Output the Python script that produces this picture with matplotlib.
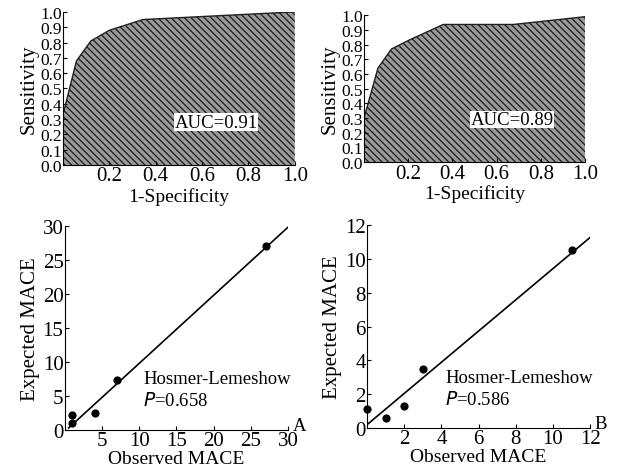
import matplotlib
matplotlib.use("Agg")
import matplotlib.pyplot as plt

plt.rcParams['font.family'] = ['Liberation Serif', 'DejaVu Serif']
plt.rcParams['hatch.linewidth'] = 0.9

# ROC curves (1-specificity, sensitivity)
roc_a_x = [0.0, 0.0, 0.058, 0.12, 0.2, 0.345, 1.0]
roc_a_y = [0.0, 0.33, 0.68, 0.81, 0.88, 0.95, 1.0]
roc_b_x = [0.0, 0.0, 0.063, 0.124, 0.21, 0.358, 0.675, 1.0]
roc_b_y = [0.0, 0.30, 0.64, 0.77, 0.835, 0.937, 0.937, 0.99]
auc_a = "AUC=0.91"
auc_b = "AUC=0.89"

# calibration (observed, expected)
obs_a = [1, 1, 4, 7, 27]
exp_a = [1.0, 2.2, 2.5, 7.4, 27.1]
fit_a_x = [0.5, 30]
fit_a_y = [0.3, 29.8]
obs_b = [0, 1, 2, 3, 11]
exp_b = [1.1, 0.6, 1.3, 3.5, 10.5]
fit_b_x = [0, 12]
fit_b_y = [0.2, 11.27]
p_a = "0.658"
p_b = "0.586"

fig = plt.figure(figsize=(6.18, 4.77), dpi=100)
TFS = 15   # tick labels
RFS = 12.5 # roc y tick labels (tightly packed)
XFS = 14   # x labels
YFS = 15   # y labels
AFS = 13.5 # annotations


def style(ax):
    for s in ['top', 'right']:
        ax.spines[s].set_visible(False)
    ax.tick_params(direction='in', length=3, labelsize=TFS, pad=1)


def roc(ax, xs, ys, label, tx, ty):
    ax.fill_between(xs + [1.0], ys + [ys[-1]], 0, facecolor='#9a9a9a',
                    edgecolor='#1a1a1a', hatch='\\\\\\\\\\', linewidth=0)
    ax.plot(xs, ys, color='#202020', lw=1)
    ax.set_xlim(0, 1)
    ax.set_ylim(0, 1)
    ax.set_xticks([0.2, 0.4, 0.6, 0.8, 1.0])
    ax.set_yticks([i / 10 for i in range(11)])
    ax.set_xticklabels(['0.2', '0.4', '0.6', '0.8', '1.0'])
    ax.set_yticklabels(['%.1f' % (i / 10) for i in range(11)])
    ax.set_xlabel('1-Specificity', fontsize=XFS, labelpad=1)
    ax.set_ylabel('Sensitivity', fontsize=YFS, labelpad=1)
    ax.text(tx, ty, label, fontsize=AFS, ha='center', va='center',
            bbox=dict(facecolor='white', edgecolor='none', pad=0.3))
    style(ax)
    ax.tick_params(axis='y', pad=1, labelsize=RFS)


def calib(ax, ox, ex, fx, fy, lim, step, pval, tx, ty, letter):
    ax.plot(fx, fy, color='black', lw=1.2)
    ax.scatter(ox, ex, s=24, color='black', zorder=3, clip_on=False)
    ax.set_xlim(0, lim)
    ax.set_ylim(0, lim)
    ax.set_xticks(list(range(step, lim + 1, step)))
    ax.set_yticks(list(range(0, lim + 1, step)))
    ax.set_xlabel('Observed MACE', fontsize=XFS, labelpad=0)
    ax.set_ylabel('Expected MACE', fontsize=YFS, labelpad=2)
    ax.text(tx, ty, 'Hosmer-Lemeshow', fontsize=AFS, ha='left', va='center')
    ax.text(tx, ty - lim * 0.105, '$\\mathit{P}$=' + pval, fontsize=AFS,
            ha='left', va='center')
    ax.text(lim * 1.02, 0, letter, fontsize=AFS, ha='left', va='baseline')
    style(ax)


ax1 = fig.add_axes([0.102, 0.652, 0.375, 0.321])
roc(ax1, roc_a_x, roc_a_y, auc_a, 0.66, 0.28)
ax2 = fig.add_axes([0.589, 0.658, 0.358, 0.308])
roc(ax2, roc_b_x, roc_b_y, auc_b, 0.67, 0.29)
ax3 = fig.add_axes([0.105, 0.0964, 0.361, 0.428])
calib(ax3, obs_a, exp_a, fit_a_x, fit_a_y, 30, 5, p_a, 10.5, 7.6, 'A')
ax4 = fig.add_axes([0.594, 0.1006, 0.361, 0.4256])
calib(ax4, obs_b, exp_b, fit_b_x, fit_b_y, 12, 2, p_b, 4.2, 2.96, 'B')

fig.savefig('out.png', dpi=100)
